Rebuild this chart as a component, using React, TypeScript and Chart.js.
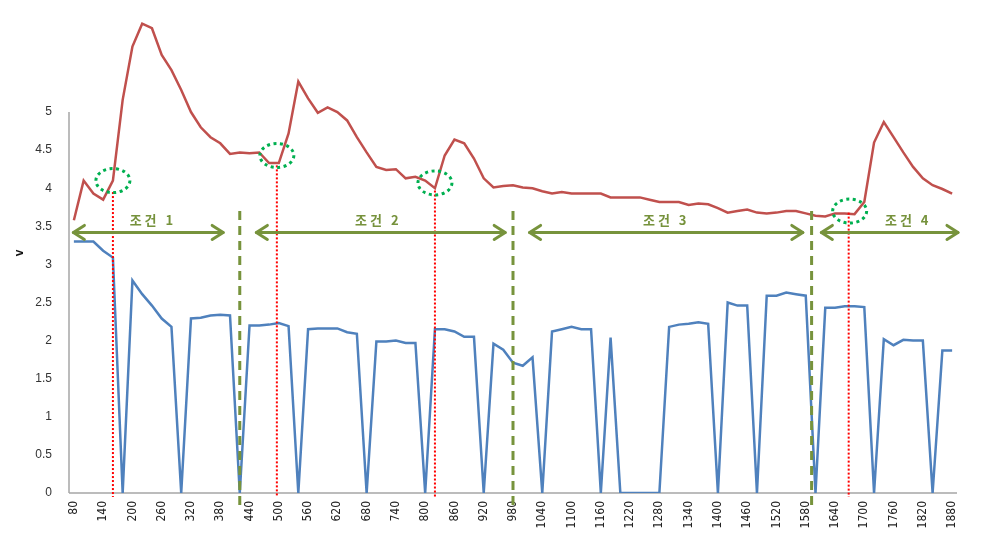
import React, { useEffect, useRef } from 'react';
import { Chart, registerables } from 'chart.js';

Chart.register(...registerables);

// ---- data ----
const categories = [
  80, 100, 120, 140, 160, 180, 200, 220, 240, 260, 280, 300, 320, 340, 360, 380, 400, 420, 440, 460,
  480, 500, 520, 540, 560, 580, 600, 620, 640, 660, 680, 700, 720, 740, 760, 780, 800, 820, 840, 860,
  880, 900, 920, 940, 960, 980, 1000, 1020, 1040, 1060, 1080, 1100, 1120, 1140, 1160, 1180, 1200, 1220,
  1240, 1260, 1280, 1300, 1320, 1340, 1360, 1380, 1400, 1420, 1440, 1460, 1480, 1500, 1520, 1540, 1560,
  1580, 1600, 1620, 1640, 1660, 1680, 1700, 1720, 1740, 1760, 1780, 1800, 1820, 1840, 1860, 1880,
];

const redSeries = [
  3.58, 4.1, 3.93, 3.85, 4.1, 5.16, 5.86, 6.16, 6.1, 5.75,
  5.55, 5.29, 5.0, 4.8, 4.67, 4.59, 4.45, 4.47, 4.46, 4.47,
  4.33, 4.33, 4.72, 5.4, 5.18, 4.99, 5.06, 5.0, 4.89, 4.67,
  4.47, 4.28, 4.24, 4.25, 4.13, 4.15, 4.1, 4.0, 4.43, 4.64,
  4.59, 4.39, 4.13, 4.01, 4.03, 4.04, 4.01, 4.0, 3.96, 3.93,
  3.95, 3.93, 3.93, 3.93, 3.93, 3.88, 3.88, 3.88, 3.88, 3.85,
  3.82, 3.82, 3.82, 3.78, 3.8, 3.79, 3.74, 3.68, 3.7, 3.72,
  3.68, 3.67, 3.68, 3.7, 3.7, 3.67, 3.64, 3.63, 3.67, 3.67,
  3.66, 3.82, 4.6, 4.87, 4.67, 4.47, 4.28, 4.13, 4.04, 3.99, 3.93,
];

const blueSeries = [
  3.3, 3.3, 3.3, 3.18, 3.09, 0, 2.79, 2.61, 2.46, 2.29,
  2.18, 0, 2.29, 2.3, 2.33, 2.34, 2.33, 0, 2.2, 2.2,
  2.21, 2.23, 2.19, 0, 2.15, 2.16, 2.16, 2.16, 2.11, 2.09,
  0, 1.99, 1.99, 2.0, 1.97, 1.97, 0, 2.15, 2.15, 2.12,
  2.05, 2.05, 0, 1.96, 1.88, 1.71, 1.67, 1.78, 0, 2.12,
  2.15, 2.18, 2.15, 2.15, 0, 2.04, 0, 0, 0, 0,
  0, 2.18, 2.21, 2.22, 2.24, 2.22, 0, 2.5, 2.46, 2.46,
  0, 2.59, 2.59, 2.63, 2.61, 2.59, 0, 2.43, 2.43, 2.45,
  2.45, 2.44, 0, 2.02, 1.94, 2.01, 2.0, 2.0, 0, 1.87, 1.87,
];

const yTickMax = 5;

// condition ranges (x units)
const conditionLabels = ['조건 1', '조건 2', '조건 3', '조건 4'];
const conditionStart = [79, 454, 1014, 1612];
const conditionEnd = [386, 964, 1574, 1892];
const conditionLabelX = [242, 704, 1294, 1790];
const conditionLabelY = 3.58;
const conditionArrowY = 3.42;

// condition boundaries (x units)
const boundaryX = [420, 980, 1592];
const boundaryTopY = 3.7;

// marked points (x units / y units)
const markerX = [160, 496, 820, 1668];
const markerCircleX = [160, 496, 820, 1670];
const markerCircleY = [4.1, 4.43, 4.07, 3.7];
const markerLineTopY = [3.95, 4.3, 3.97, 3.68];

const annotationPlugin = {
  id: 'annotations',
  beforeDatasetsDraw(chart: any) {
    const { ctx, chartArea } = chart;
    const ys = chart.scales.y;
    ctx.save();
    ctx.strokeStyle = '#A6A6A6';
    ctx.lineWidth = 1.5;
    ctx.beginPath();
    ctx.moveTo(chartArea.left, ys.getPixelForValue(0));
    ctx.lineTo(chartArea.right, ys.getPixelForValue(0));
    ctx.stroke();
    ctx.beginPath();
    ctx.moveTo(chartArea.left, ys.getPixelForValue(0));
    ctx.lineTo(chartArea.left, ys.getPixelForValue(yTickMax));
    ctx.stroke();
    ctx.restore();
  },
  afterDatasetsDraw(chart: any) {
    const { ctx } = chart;
    const xs = chart.scales.x;
    const ys = chart.scales.y;
    const step = categories[1] - categories[0];
    const px = (v: number) => xs.getPixelForValue((v - categories[0]) / step);
    const py = (v: number) => ys.getPixelForValue(v);
    const base = py(0);
    ctx.save();

    // boundaries
    ctx.strokeStyle = '#77933C';
    ctx.lineWidth = 3;
    ctx.setLineDash([9, 6]);
    boundaryX.forEach((b) => {
      ctx.beginPath();
      ctx.moveTo(px(b), py(boundaryTopY));
      ctx.lineTo(px(b), base + 16);
      ctx.stroke();
    });

    // red dotted markers
    ctx.strokeStyle = '#FF0000';
    ctx.lineWidth = 2;
    ctx.setLineDash([2, 2]);
    markerX.forEach((m, i) => {
      ctx.beginPath();
      ctx.moveTo(px(m), py(markerLineTopY[i]));
      ctx.lineTo(px(m), base + 4);
      ctx.stroke();
    });

    // green dotted ellipses
    ctx.strokeStyle = '#00B050';
    ctx.lineWidth = 3;
    ctx.setLineDash([3, 3.5]);
    markerCircleX.forEach((m, i) => {
      ctx.beginPath();
      ctx.ellipse(px(m), py(markerCircleY[i]), 17, 12, 0, 0, Math.PI * 2);
      ctx.stroke();
    });

    // arrows
    ctx.setLineDash([]);
    ctx.strokeStyle = '#77933C';
    ctx.lineWidth = 3;
    ctx.lineJoin = 'round';
    ctx.lineCap = 'round';
    const ay = py(conditionArrowY);
    conditionStart.forEach((s, i) => {
      const x1 = px(s);
      const x2 = px(conditionEnd[i]);
      ctx.beginPath();
      ctx.moveTo(x1, ay);
      ctx.lineTo(x2, ay);
      ctx.stroke();
      ctx.beginPath();
      ctx.moveTo(x1 + 11, ay - 7);
      ctx.lineTo(x1, ay);
      ctx.lineTo(x1 + 11, ay + 7);
      ctx.stroke();
      ctx.beginPath();
      ctx.moveTo(x2 - 11, ay - 7);
      ctx.lineTo(x2, ay);
      ctx.lineTo(x2 - 11, ay + 7);
      ctx.stroke();
    });

    // labels
    ctx.fillStyle = '#76923C';
    ctx.font = 'bold 13px "Noto Sans CJK KR", sans-serif';
    try { (ctx as any).letterSpacing = '3px'; } catch (e) {}
    ctx.textAlign = 'center';
    ctx.textBaseline = 'middle';
    conditionLabels.forEach((t, i) => {
      ctx.fillText(t, px(conditionLabelX[i]), py(conditionLabelY));
    });
    try { (ctx as any).letterSpacing = '0px'; } catch (e) {}
    ctx.restore();
  },
};

export default function App() {
  const ref = useRef<HTMLCanvasElement>(null);

  useEffect(() => {
    if (!ref.current) return;
    const chart = new Chart(ref.current, {
      type: 'line',
      data: {
        labels: categories.map(String),
        datasets: [
          {
            data: redSeries,
            borderColor: '#C0504D',
            borderWidth: 2.5,
            pointRadius: 0,
            tension: 0,
            fill: false,
          },
          {
            data: blueSeries,
            borderColor: '#4F81BD',
            borderWidth: 2.5,
            pointRadius: 0,
            tension: 0,
            fill: false,
          },
        ],
      },
      options: {
        animation: false,
        responsive: false,
        events: [],
        layout: { padding: { top: 13, right: 32, left: 0, bottom: 0 } },
        plugins: {
          legend: { display: false },
          tooltip: { enabled: false },
        },
        scales: {
          x: {
            type: 'category',
            offset: true,
            grid: { display: false, drawTicks: false },
            border: { display: false },
            ticks: {
              autoSkip: false,
              maxRotation: 90,
              minRotation: 90,
              padding: 8,
              color: '#222',
              font: { family: '"Liberation Sans Narrow", "DejaVu Sans Condensed", sans-serif', size: 12 },
              callback: (_v: any, idx: number) => (idx % 3 === 0 ? String(categories[idx]) : ''),
            },
            afterFit: (scale: any) => {
              scale.height = 43;
              scale.paddingLeft = 0;
              scale.paddingRight = 0;
            },
          },
          y: {
            type: 'linear',
            min: 0,
            max: 6.3,
            bounds: 'data',
            grid: { display: false, drawTicks: false },
            border: { display: false },
            ticks: {
              stepSize: 0.5,
              padding: 17,
              color: '#333',
              font: { family: '"Liberation Sans", Arial, sans-serif', size: 12 },
              callback: (v: any) => String(Math.round(Number(v) * 10) / 10),
            },
            afterBuildTicks: (scale: any) => {
              scale.ticks = scale.ticks.filter((t: any) => t.value <= yTickMax + 1e-9);
            },
            title: {
              display: true,
              text: 'v',
              color: '#111',
              font: { family: '"Liberation Sans", Arial, sans-serif', size: 12, weight: 'bold' },
              padding: { top: 12, bottom: 0 },
            },
            afterFit: (scale: any) => {
              scale.width = 69;
              scale.paddingTop = 0;
              scale.paddingBottom = 0;
            },
          },
        },
      },
      plugins: [annotationPlugin],
    } as any);
    return () => chart.destroy();
  }, []);

  return (
    <div style={{ position: 'fixed', left: 0, top: 0, width: 989, height: 536, background: '#fff' }}>
      <canvas ref={ref} width={989} height={536} style={{ width: 989, height: 536, display: 'block' }} />
    </div>
  );
}
